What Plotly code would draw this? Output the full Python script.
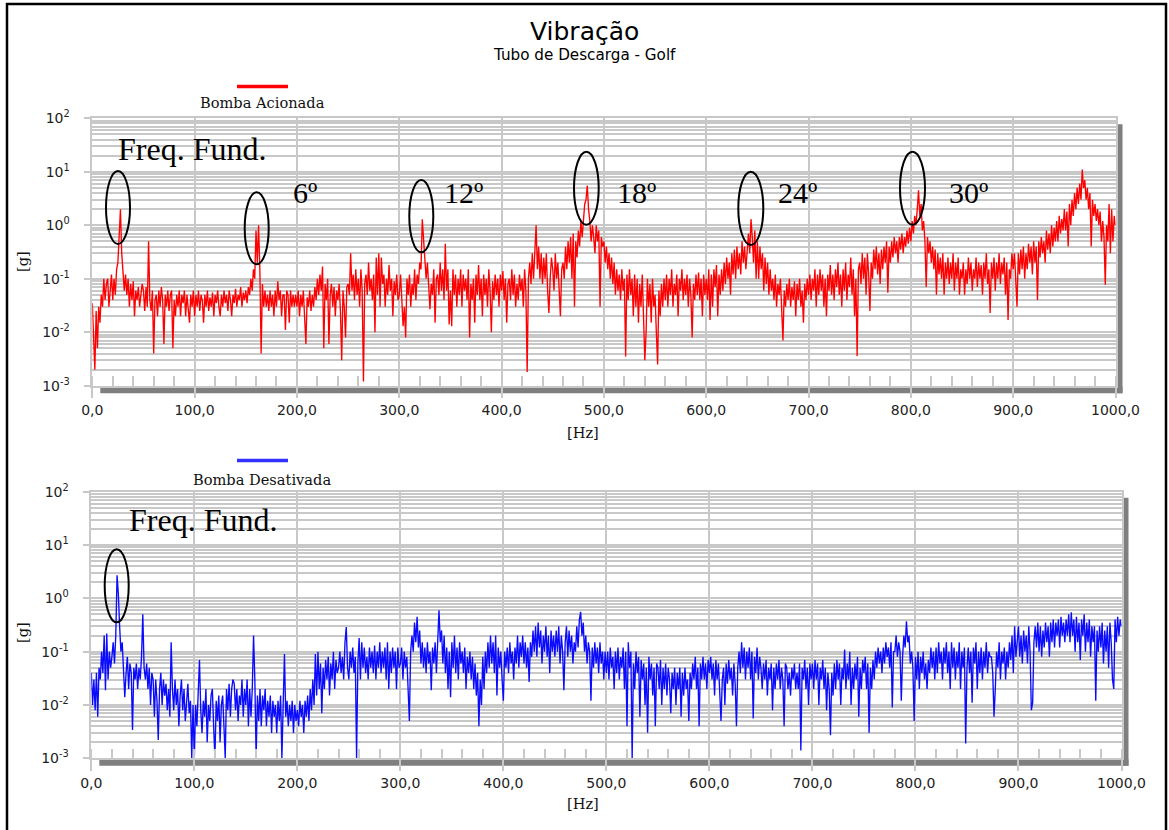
import plotly.graph_objects as go

FIG_W, FIG_H = 1169, 830

# ---------------- data ----------------
freq_start = 0.0
freq_step = 1.25  # Hz between spectral lines

# Bomba Acionada (red), acceleration [g]; 40 lines per 50 Hz row
acionada = [
    0.035, 0.01, 0.002, 0.025, 0.005, 0.03, 0.015, 0.05, 0.03, 0.1, 0.04, 0.08, 0.1, 0.03, 0.06, 0.12, 0.04, 0.1, 0.05, 0.15,
    0.2, 0.6, 2.0, 0.3, 0.15, 0.06, 0.12, 0.05, 0.1, 0.03, 0.08, 0.04, 0.09, 0.02, 0.06, 0.04, 0.07, 0.03, 0.05, 0.08,
    0.06, 0.025, 0.07, 0.03, 0.5, 0.04, 0.025, 0.06, 0.004, 0.04, 0.05, 0.02, 0.06, 0.03, 0.07, 0.04, 0.006, 0.05, 0.03, 0.06,
    0.025, 0.05, 0.06, 0.005, 0.04, 0.02, 0.05, 0.03, 0.06, 0.02, 0.05, 0.035, 0.06, 0.02, 0.05, 0.03, 0.015, 0.05, 0.03, 0.06,
    0.02, 0.05, 0.03, 0.06, 0.025, 0.05, 0.04, 0.015, 0.05, 0.03, 0.06, 0.025, 0.045, 0.03, 0.055, 0.02, 0.05, 0.035, 0.06, 0.03,
    0.02, 0.05, 0.03, 0.06, 0.035, 0.05, 0.025, 0.06, 0.04, 0.02, 0.05, 0.035, 0.065, 0.03, 0.05, 0.04, 0.07, 0.03, 0.055, 0.04,
    0.06, 0.035, 0.07, 0.05, 0.1, 0.06, 0.15, 0.1, 0.8, 0.2, 1.0, 0.15, 0.004, 0.08, 0.03, 0.06, 0.03, 0.05, 0.025, 0.06,
    0.03, 0.05, 0.02, 0.06, 0.03, 0.09, 0.04, 0.06, 0.02, 0.05, 0.05, 0.011, 0.06, 0.05, 0.015, 0.06, 0.03, 0.05, 0.03, 0.05,
    0.03, 0.06, 0.02, 0.05, 0.03, 0.06, 0.02, 0.006, 0.045, 0.03, 0.06, 0.025, 0.05, 0.03, 0.07, 0.04, 0.1, 0.05, 0.12, 0.06,
    0.17, 0.005, 0.08, 0.04, 0.1, 0.006, 0.05, 0.08, 0.03, 0.07, 0.02, 0.06, 0.04, 0.08, 0.025, 0.003, 0.06, 0.03, 0.008, 0.07,
    0.08, 0.05, 0.3, 0.06, 0.12, 0.04, 0.15, 0.05, 0.1, 0.03, 0.15, 0.06, 0.0012, 0.08, 0.12, 0.05, 0.2, 0.06, 0.1, 0.04,
    0.12, 0.01, 0.25, 0.05, 0.3, 0.03, 0.25, 0.08, 0.12, 0.03, 0.1, 0.05, 0.18, 0.06, 0.1, 0.02, 0.09, 0.05, 0.12, 0.04,
    0.05, 0.12, 0.04, 0.013, 0.03, 0.008, 0.1, 0.05, 0.12, 0.03, 0.08, 0.05, 0.15, 0.04, 0.12, 0.08, 0.2, 0.15, 1.3, 0.5,
    0.3, 0.1, 0.2, 0.06, 0.027, 0.08, 0.05, 0.15, 0.015, 0.1, 0.12, 0.05, 0.2, 0.06, 0.15, 0.04, 0.45, 0.06, 0.15, 0.014,
    0.06, 0.013, 0.15, 0.05, 0.12, 0.03, 0.1, 0.05, 0.15, 0.03, 0.12, 0.06, 0.1, 0.04, 0.15, 0.008, 0.08, 0.04, 0.1, 0.015,
    0.12, 0.05, 0.18, 0.04, 0.1, 0.02, 0.12, 0.05, 0.1, 0.03, 0.15, 0.06, 0.01, 0.09, 0.04, 0.12, 0.05, 0.1, 0.03, 0.12,
    0.06, 0.14, 0.04, 0.1, 0.015, 0.08, 0.1, 0.04, 0.15, 0.05, 0.12, 0.03, 0.08, 0.04, 0.12, 0.06, 0.1, 0.03, 0.15, 0.06,
    0.0018, 0.1, 0.2, 0.08, 0.3, 0.1, 0.25, 1.0, 0.15, 0.4, 0.1, 0.3, 0.08, 0.25, 0.1, 0.3, 0.06, 0.023, 0.1, 0.25,
    0.15, 0.06, 0.3, 0.1, 0.2, 0.05, 0.02, 0.15, 0.2, 0.1, 0.4, 0.15, 0.5, 0.2, 0.6, 0.1, 0.7, 0.03, 0.5, 0.25,
    0.8, 0.4, 1.2, 0.6, 1.5, 2.5, 3.0, 5.5, 2.0, 1.2, 0.5, 1.0, 0.6, 0.3, 1.0, 0.5, 0.8, 0.03, 0.6, 0.4,
    0.5, 0.2, 0.4, 0.15, 0.3, 0.1, 0.25, 0.08, 0.2, 0.05, 0.15, 0.06, 0.12, 0.04, 0.15, 0.06, 0.1, 0.0035, 0.12, 0.04,
    0.15, 0.05, 0.1, 0.02, 0.12, 0.03, 0.1, 0.015, 0.08, 0.03, 0.12, 0.02, 0.003, 0.01, 0.1, 0.03, 0.08, 0.015, 0.1, 0.03,
    0.05, 0.01, 0.0025, 0.06, 0.02, 0.08, 0.03, 0.1, 0.04, 0.12, 0.03, 0.1, 0.05, 0.15, 0.03, 0.08, 0.05, 0.12, 0.02, 0.1,
    0.06, 0.15, 0.04, 0.1, 0.05, 0.12, 0.03, 0.1, 0.05, 0.008, 0.08, 0.04, 0.12, 0.05, 0.13, 0.04, 0.1, 0.02, 0.12, 0.05,
    0.1, 0.04, 0.15, 0.017, 0.12, 0.03, 0.15, 0.07, 0.18, 0.02, 0.12, 0.05, 0.15, 0.06, 0.2, 0.08, 0.25, 0.1, 0.2, 0.05,
    0.3, 0.12, 0.35, 0.1, 0.4, 0.15, 0.3, 0.12, 0.5, 0.2, 0.4, 0.15, 0.4, 0.7, 0.3, 1.3, 0.6, 0.2, 0.8, 0.1,
    0.5, 0.1, 0.4, 0.15, 0.3, 0.06, 0.25, 0.08, 0.2, 0.05, 0.15, 0.06, 0.1, 0.04, 0.12, 0.03, 0.08, 0.05, 0.1, 0.02,
    0.007, 0.06, 0.03, 0.08, 0.04, 0.1, 0.03, 0.07, 0.04, 0.09, 0.02, 0.08, 0.04, 0.1, 0.03, 0.06, 0.015, 0.08, 0.04, 0.1,
    0.05, 0.12, 0.04, 0.1, 0.06, 0.15, 0.03, 0.12, 0.05, 0.15, 0.06, 0.12, 0.03, 0.1, 0.02, 0.12, 0.06, 0.18, 0.05, 0.12,
    0.04, 0.15, 0.07, 0.2, 0.05, 0.12, 0.03, 0.15, 0.06, 0.2, 0.04, 0.12, 0.07, 0.25, 0.05, 0.15, 0.02, 0.1, 0.0036, 0.15,
    0.2, 0.08, 0.3, 0.1, 0.25, 0.05, 0.3, 0.12, 0.025, 0.2, 0.1, 0.35, 0.15, 0.4, 0.12, 0.3, 0.08, 0.35, 0.15, 0.4,
    0.2, 0.5, 0.055, 0.4, 0.2, 0.5, 0.25, 0.6, 0.3, 0.5, 0.2, 0.6, 0.35, 0.7, 0.3, 0.6, 0.4, 0.8, 0.45, 0.9,
    0.5, 1.2, 0.7, 1.5, 1.0, 2.0, 4.5, 1.5, 2.5, 0.8, 1.2, 0.5, 0.07, 0.6, 0.3, 0.5, 0.2, 0.4, 0.15, 0.35,
    0.05, 0.3, 0.12, 0.25, 0.1, 0.3, 0.05, 0.2, 0.1, 0.25, 0.08, 0.2, 0.1, 0.3, 0.06, 0.2, 0.1, 0.25, 0.05, 0.15,
    0.1, 0.2, 0.05, 0.15, 0.08, 0.25, 0.1, 0.2, 0.06, 0.15, 0.1, 0.25, 0.07, 0.2, 0.1, 0.18, 0.05, 0.2, 0.1, 0.3,
    0.08, 0.15, 0.023, 0.2, 0.1, 0.25, 0.06, 0.2, 0.1, 0.3, 0.08, 0.2, 0.12, 0.25, 0.05, 0.2, 0.017, 0.15, 0.1, 0.3,
    0.15, 0.3, 0.1, 0.03, 0.3, 0.12, 0.35, 0.15, 0.4, 0.1, 0.3, 0.15, 0.45, 0.2, 0.4, 0.12, 0.5, 0.2, 0.4, 0.04,
    0.5, 0.25, 0.6, 0.3, 0.5, 0.2, 0.8, 0.35, 0.7, 0.3, 1.0, 0.4, 0.9, 0.5, 1.2, 0.5, 1.5, 0.7, 1.3, 0.8,
    2.0, 0.8, 1.8, 0.4, 2.5, 1.0, 3.0, 1.5, 4.0, 2.0, 5.0, 2.5, 6.0, 3.0, 11.0, 5.0, 7.0, 3.0, 5.0, 2.0,
    4.0, 0.4, 3.0, 1.5, 2.5, 1.2, 2.0, 1.0, 1.8, 0.5, 1.2, 0.6, 0.077, 1.0, 0.5, 2.5, 0.3, 2.0, 0.5, 1.5,
    1.0,
]

# Bomba Desativada (blue), acceleration [g]; 40 lines per 50 Hz row
desativada = [
    0.04, 0.01, 0.03, 0.008, 0.04, 0.006, 0.05, 0.03, 0.1, 0.04, 0.2, 0.019, 0.22, 0.03, 0.1, 0.05, 0.08, 0.15, 0.06, 0.2,
    2.7, 1.2, 0.3, 0.1, 0.15, 0.06, 0.014, 0.04, 0.08, 0.02, 0.06, 0.04, 0.0034, 0.05, 0.03, 0.06, 0.02, 0.05, 0.03, 0.08,
    0.5, 0.05, 0.03, 0.06, 0.02, 0.05, 0.01, 0.04, 0.03, 0.006, 0.03, 0.012, 0.0022, 0.02, 0.04, 0.01, 0.03, 0.015, 0.025, 0.008,
    0.02, 0.006, 0.15, 0.02, 0.008, 0.03, 0.01, 0.02, 0.004, 0.015, 0.03, 0.008, 0.02, 0.005, 0.012, 0.025, 0.007, 0.012, 0.001, 0.01,
    0.001, 0.01, 0.004, 0.015, 0.07, 0.008, 0.003, 0.012, 0.006, 0.02, 0.002, 0.01, 0.005, 0.015, 0.02, 0.004, 0.001, 0.012, 0.005, 0.015,
    0.002, 0.01, 0.015, 0.004, 0.001, 0.02, 0.008, 0.025, 0.006, 0.02, 0.03, 0.025, 0.008, 0.02, 0.005, 0.015, 0.01, 0.03, 0.006, 0.02,
    0.01, 0.03, 0.004, 0.02, 0.006, 0.02, 0.2, 0.03, 0.001, 0.015, 0.005, 0.02, 0.004, 0.015, 0.008, 0.02, 0.004, 0.012, 0.006, 0.015,
    0.003, 0.012, 0.006, 0.01, 0.003, 0.012, 0.005, 0.015, 0.001, 0.01, 0.09, 0.006, 0.012, 0.004, 0.01, 0.005, 0.012, 0.003, 0.01, 0.005,
    0.008, 0.004, 0.012, 0.006, 0.01, 0.003, 0.012, 0.006, 0.015, 0.005, 0.02, 0.008, 0.03, 0.01, 0.09, 0.015, 0.1, 0.02, 0.06, 0.007,
    0.05, 0.02, 0.07, 0.03, 0.08, 0.015, 0.06, 0.03, 0.1, 0.02, 0.07, 0.04, 0.05, 0.1, 0.04, 0.08, 0.03, 0.15, 0.29, 0.05,
    0.03, 0.1, 0.05, 0.12, 0.04, 0.08, 0.001, 0.06, 0.18, 0.03, 0.15, 0.05, 0.12, 0.04, 0.08, 0.03, 0.12, 0.05, 0.1, 0.04,
    0.13, 0.03, 0.1, 0.05, 0.15, 0.04, 0.1, 0.05, 0.12, 0.03, 0.15, 0.02, 0.1, 0.04, 0.12, 0.05, 0.1, 0.02, 0.12, 0.05,
    0.06, 0.12, 0.03, 0.1, 0.05, 0.08, 0.02, 0.005, 0.1, 0.2, 0.1, 0.35, 0.15, 0.45, 0.12, 0.25, 0.06, 0.15, 0.05, 0.12,
    0.04, 0.15, 0.06, 0.1, 0.019, 0.12, 0.06, 0.15, 0.04, 0.2, 0.6, 0.15, 0.25, 0.06, 0.2, 0.04, 0.12, 0.02, 0.1, 0.014,
    0.15, 0.05, 0.2, 0.04, 0.12, 0.03, 0.15, 0.06, 0.1, 0.04, 0.12, 0.02, 0.08, 0.04, 0.1, 0.03, 0.08, 0.02, 0.06, 0.015,
    0.04, 0.004, 0.03, 0.01, 0.08, 0.02, 0.1, 0.04, 0.15, 0.05, 0.2, 0.06, 0.15, 0.04, 0.2, 0.015, 0.12, 0.05, 0.1, 0.03,
    0.012, 0.1, 0.05, 0.12, 0.04, 0.15, 0.06, 0.1, 0.03, 0.12, 0.06, 0.2, 0.05, 0.15, 0.08, 0.2, 0.06, 0.15, 0.05, 0.12,
    0.027, 0.15, 0.08, 0.25, 0.1, 0.3, 0.08, 0.35, 0.12, 0.25, 0.06, 0.2, 0.1, 0.3, 0.08, 0.2, 0.04, 0.25, 0.1, 0.2,
    0.08, 0.25, 0.1, 0.3, 0.06, 0.2, 0.1, 0.019, 0.15, 0.3, 0.08, 0.25, 0.1, 0.2, 0.06, 0.15, 0.1, 0.3, 0.12, 0.4,
    0.56, 0.2, 0.35, 0.1, 0.2, 0.06, 0.15, 0.1, 0.012, 0.12, 0.05, 0.15, 0.06, 0.12, 0.04, 0.15, 0.06, 0.1, 0.03, 0.1,
    0.04, 0.1, 0.03, 0.12, 0.05, 0.08, 0.02, 0.1, 0.04, 0.12, 0.03, 0.08, 0.05, 0.12, 0.02, 0.1, 0.004, 0.15, 0.05, 0.1,
    0.001, 0.06, 0.02, 0.1, 0.04, 0.08, 0.006, 0.07, 0.03, 0.06, 0.01, 0.05, 0.003, 0.08, 0.03, 0.06, 0.015, 0.05, 0.004, 0.06,
    0.05, 0.02, 0.07, 0.01, 0.05, 0.02, 0.06, 0.015, 0.05, 0.03, 0.007, 0.04, 0.02, 0.05, 0.01, 0.04, 0.02, 0.05, 0.006, 0.04,
    0.015, 0.05, 0.02, 0.03, 0.005, 0.04, 0.02, 0.06, 0.03, 0.08, 0.02, 0.05, 0.004, 0.06, 0.03, 0.08, 0.03, 0.06, 0.02, 0.07,
    0.04, 0.08, 0.03, 0.06, 0.015, 0.07, 0.03, 0.06, 0.02, 0.005, 0.03, 0.05, 0.01, 0.06, 0.025, 0.07, 0.03, 0.05, 0.015, 0.06,
    0.025, 0.004, 0.05, 0.1, 0.04, 0.15, 0.05, 0.12, 0.03, 0.1, 0.05, 0.12, 0.03, 0.1, 0.0056, 0.08, 0.04, 0.12, 0.03, 0.08,
    0.05, 0.02, 0.06, 0.03, 0.07, 0.015, 0.05, 0.03, 0.06, 0.008, 0.05, 0.02, 0.06, 0.03, 0.07, 0.02, 0.05, 0.03, 0.004, 0.06,
    0.05, 0.02, 0.04, 0.015, 0.05, 0.03, 0.06, 0.02, 0.04, 0.02, 0.06, 0.0014, 0.05, 0.03, 0.07, 0.02, 0.05, 0.01, 0.06, 0.03,
    0.06, 0.02, 0.07, 0.03, 0.06, 0.01, 0.05, 0.03, 0.07, 0.02, 0.05, 0.008, 0.04, 0.02, 0.0027, 0.04, 0.015, 0.06, 0.02, 0.07,
    0.03, 0.06, 0.01, 0.05, 0.03, 0.11, 0.02, 0.06, 0.03, 0.1, 0.01, 0.05, 0.02, 0.06, 0.03, 0.08, 0.006, 0.05, 0.02, 0.07,
    0.04, 0.08, 0.02, 0.06, 0.003, 0.05, 0.02, 0.07, 0.03, 0.1, 0.05, 0.12, 0.06, 0.1, 0.04, 0.12, 0.06, 0.15, 0.08, 0.12,
    0.05, 0.15, 0.009, 0.1, 0.1, 0.2, 0.08, 0.15, 0.1, 0.012, 0.08, 0.2, 0.12, 0.37, 0.15, 0.2, 0.06, 0.1, 0.05, 0.005,
    0.08, 0.03, 0.1, 0.02, 0.08, 0.04, 0.1, 0.03, 0.06, 0.02, 0.07, 0.04, 0.12, 0.05, 0.1, 0.03, 0.12, 0.04, 0.15, 0.06,
    0.1, 0.03, 0.12, 0.06, 0.15, 0.04, 0.1, 0.02, 0.15, 0.05, 0.12, 0.03, 0.1, 0.05, 0.15, 0.02, 0.1, 0.05, 0.12, 0.0019,
    0.05, 0.12, 0.04, 0.1, 0.011, 0.12, 0.06, 0.15, 0.02, 0.1, 0.04, 0.12, 0.03, 0.1, 0.05, 0.15, 0.04, 0.1, 0.08, 0.08,
    0.04, 0.006, 0.02, 0.1, 0.05, 0.15, 0.03, 0.1, 0.06, 0.12, 0.03, 0.1, 0.05, 0.15, 0.07, 0.2, 0.04, 0.3, 0.08, 0.2,
    0.3, 0.08, 0.2, 0.06, 0.25, 0.1, 0.2, 0.06, 0.3, 0.1, 0.008, 0.011, 0.15, 0.3, 0.12, 0.35, 0.1, 0.3, 0.08, 0.25,
    0.12, 0.35, 0.15, 0.3, 0.08, 0.35, 0.15, 0.4, 0.12, 0.35, 0.2, 0.4, 0.12, 0.45, 0.2, 0.35, 0.15, 0.4, 0.2, 0.5,
    0.15, 0.55, 0.2, 0.4, 0.1, 0.45, 0.15, 0.35, 0.07, 0.4, 0.2, 0.5, 0.1, 0.35, 0.15, 0.4, 0.08, 0.3, 0.15, 0.3,
    0.012, 0.25, 0.1, 0.3, 0.12, 0.35, 0.06, 0.25, 0.1, 0.3, 0.05, 0.35, 0.15, 0.03, 0.02, 0.4, 0.15, 0.45, 0.2, 0.4,
    0.3,
]

x_tick_vals = [0, 100, 200, 300, 400, 500, 600, 700, 800, 900, 1000]
x_tick_text = ["0,0", "100,0", "200,0", "300,0", "400,0", "500,0", "600,0", "700,0", "800,0", "900,0", "1000,0"]
y_tick_vals = [0.001, 0.01, 0.1, 1, 10, 100]
y_tick_text = ["10<sup>-3</sup>", "10<sup>-2</sup>", "10<sup>-1</sup>", "10<sup>0</sup>", "10<sup>1</sup>", "10<sup>2</sup>"]

title = "Vibração"
subtitle = "Tubo de Descarga - Golf"
series_names = ["Bomba Acionada", "Bomba Desativada"]


# ---------------- helpers: screen pixel -> paper ----------------
def px(x):
    return x / FIG_W


def py(y):
    return 1 - y / FIG_H


GRID = "#c8c8c8"
SHADOW = "#7f7f7f"
TICKFONT = dict(family="DejaVu Sans", size=14, color="#222222")
SERIF = "Liberation Serif"

fig = go.Figure()
fig.add_trace(go.Scatter(y=acionada, x0=freq_start, dx=freq_step, mode="lines",
                         line=dict(color="#ff0000", width=1.35), xaxis="x", yaxis="y",
                         name=series_names[0], showlegend=False))
fig.add_trace(go.Scatter(y=desativada, x0=freq_start, dx=freq_step, mode="lines",
                         line=dict(color="#0a0aff", width=1.35), xaxis="x2", yaxis="y2",
                         name=series_names[1], showlegend=False))

# panel geometry in screen pixels
top = dict(l=92.3, r=1115.5, t=118.3, b=385.7)
bot = dict(l=91.3, r=1121.5, t=491.7, b=758.3)


def xaxis_cfg(p, anchor):
    return dict(domain=[px(p["l"]), px(p["r"])], range=[0, 1000], anchor=anchor, automargin=False,
                tickmode="array", tickvals=x_tick_vals, ticktext=x_tick_text,
                tickfont=TICKFONT, ticks="outside", ticklen=11, tickcolor=GRID, tickwidth=1.5,
                showgrid=True, gridcolor=GRID, gridwidth=1.8, zeroline=False,
                showline=True, linecolor=GRID, linewidth=1.5, mirror=True,
                minor=dict(dtick=20, tick0=0, ticks="inside", ticklen=10, tickcolor=GRID,
                           tickwidth=1.5, showgrid=False))


def yaxis_cfg(p, anchor):
    return dict(domain=[py(p["b"]), py(p["t"])], type="log", range=[-3, 2], anchor=anchor, automargin=False,
                tickmode="array", tickvals=y_tick_vals, ticktext=y_tick_text,
                tickfont=TICKFONT, ticks="outside", ticklen=7, tickcolor=GRID, tickwidth=1.5,
                ticklabelstandoff=11,
                showgrid=True, gridcolor=GRID, gridwidth=1.8, zeroline=False,
                showline=True, linecolor=GRID, linewidth=1.5, mirror=True,
                minor=dict(dtick="D1", showgrid=True, gridcolor=GRID, gridwidth=1.5, ticks=""))


shapes = []
# 3-D shadow bars
for p in (top, bot):
    shapes.append(dict(type="rect", xref="paper", yref="paper", layer="below",
                       x0=px(p["l"] + 8), x1=px(p["r"] + 7), y0=py(p["b"] + 7.5), y1=py(p["b"] + 1),
                       fillcolor=SHADOW, line=dict(width=0)))
    shapes.append(dict(type="rect", xref="paper", yref="paper", layer="below",
                       x0=px(p["r"] + 1), x1=px(p["r"] + 7), y0=py(p["b"] + 7.5), y1=py(p["t"] + 6),
                       fillcolor=SHADOW, line=dict(width=0)))

# legend swatches
shapes.append(dict(type="line", xref="paper", yref="paper", x0=px(237), x1=px(288), y0=py(86.5), y1=py(86.5),
                   line=dict(color="#ff0000", width=3.5)))
shapes.append(dict(type="line", xref="paper", yref="paper", x0=px(237), x1=px(288), y0=py(460.5), y1=py(460.5),
                   line=dict(color="#3030ff", width=3.5)))

# ellipses marking the harmonics
ellipses = [(106, 130, 171, 244), (244.7, 268.7, 192.3, 264.3), (409.3, 433.3, 180, 252.3),
            (574, 598.7, 151.7, 224.7), (738.3, 763.3, 171.7, 245), (900, 925, 151.7, 224.7),
            (104.7, 128.7, 549.3, 622.3)]
for x0, x1, y0, y1 in ellipses:
    shapes.append(dict(type="circle", xref="paper", yref="paper", layer="above",
                       x0=px(x0), x1=px(x1), y0=py(y1), y1=py(y0),
                       line=dict(color="black", width=2)))

# outer frame
shapes.append(dict(type="line", xref="paper", yref="paper", x0=px(7), x1=px(7), y0=py(3), y1=py(840),
                   line=dict(color="black", width=2.5)))
shapes.append(dict(type="line", xref="paper", yref="paper", x0=px(6), x1=px(1167), y0=py(4), y1=py(4),
                   line=dict(color="black", width=2.5)))
shapes.append(dict(type="line", xref="paper", yref="paper", x0=px(1166), x1=px(1166), y0=py(3), y1=py(840),
                   line=dict(color="black", width=2.5)))

annotations = []


def ann(text, x, y, size, family, xanchor="center", angle=0, color="black"):
    annotations.append(dict(text=text, x=px(x), y=py(y), xref="paper", yref="paper",
                            xanchor=xanchor, yanchor="middle", showarrow=False, textangle=angle,
                            font=dict(family=family, size=size, color=color)))


ann(title, 584, 32, 25, "DejaVu Sans")
ann(subtitle, 584, 55, 15.2, "DejaVu Sans")
ann(series_names[0], 262, 103, 14.6, "DejaVu Serif", color="#111111")
ann(series_names[1], 262, 479, 14.6, "DejaVu Serif", color="#111111")
ann("[Hz]", 583, 432, 14.6, "DejaVu Serif", color="#111111")
ann("[Hz]", 583, 803, 14.6, "DejaVu Serif", color="#111111")
ann("[g]", 22, 262, 14.6, "DejaVu Serif", angle=-90, color="#111111")
ann("[g]", 22, 633, 14.6, "DejaVu Serif", angle=-90, color="#111111")

ann("Freq. Fund.", 116, 149, 32, SERIF, xanchor="left")
ann("6º", 291, 193, 30, SERIF, xanchor="left")
ann("12º", 442, 193, 30, SERIF, xanchor="left")
ann("18º", 615, 193, 30, SERIF, xanchor="left")
ann("24º", 776, 193, 30, SERIF, xanchor="left")
ann("30º", 947, 193, 30, SERIF, xanchor="left")
ann("Freq. Fund.", 127, 520, 32, SERIF, xanchor="left")

fig.update_layout(
    width=FIG_W, height=FIG_H, margin=dict(l=0, r=0, t=0, b=0, autoexpand=False),
    paper_bgcolor="white", plot_bgcolor="white",
    xaxis=xaxis_cfg(top, "y"), yaxis=yaxis_cfg(top, "x"),
    xaxis2=xaxis_cfg(bot, "y2"), yaxis2=yaxis_cfg(bot, "x2"),
    shapes=shapes, annotations=annotations, showlegend=False,
)

fig.write_html("out.html")
